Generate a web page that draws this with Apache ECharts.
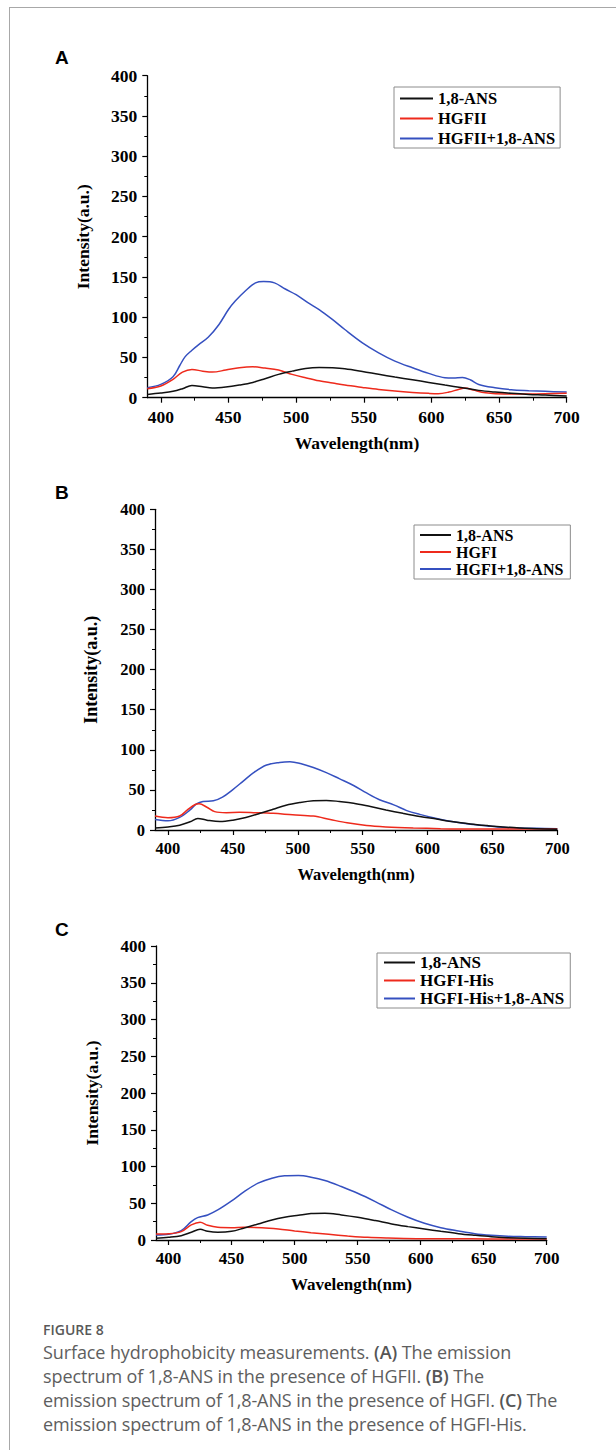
<!DOCTYPE html>
<html>
<head>
<meta charset="utf-8">
<script src="https://cdn.jsdelivr.net/npm/echarts@6/dist/echarts.min.js"></script>
<style>
html,body{margin:0;padding:0;background:#fff;}
#wrap{position:relative;width:616px;height:1450px;overflow:hidden;background:#fff;}
#chart{position:absolute;left:0;top:0;width:616px;height:1450px;}
#frame{position:absolute;left:9px;top:7px;width:640px;height:1480px;border-top:1px solid #a8a8a8;border-left:1px solid #a8a8a8;pointer-events:none;}
.letter{position:absolute;left:55px;font-family:'Liberation Sans',Arial,sans-serif;font-weight:bold;font-size:19px;line-height:19px;color:#000;}
#cap{position:absolute;left:43px;top:1320px;width:570px;font-family:'Open Sans','Noto Sans',sans-serif;color:#5e5e5e;white-space:nowrap;}
#cap .fig{font-size:14px;font-weight:600;line-height:20px;color:#595959;}
#cap .txt{font-size:18px;line-height:24px;letter-spacing:-0.1px;}
#cap b{font-weight:600;color:#555;}
</style>
</head>
<body>
<div id="wrap">
  <div id="chart"></div>
  <div id="frame"></div>
  <div class="letter" style="top:47.5px">A</div>
  <div class="letter" style="top:482.5px">B</div>
  <div class="letter" style="top:920px">C</div>
  <div id="cap">
    <div class="fig">FIGURE 8</div>
    <div class="txt">Surface hydrophobicity measurements. <b>(A)</b> The emission<br>spectrum of 1,8-ANS in the presence of HGFII. <b>(B)</b> The<br>emission spectrum of 1,8-ANS in the presence of HGFI. <b>(C)</b> The<br>emission spectrum of 1,8-ANS in the presence of HGFI-His.</div>
  </div>
</div>
<script>
// ---------------- DATA ----------------
const X_TICKS = [400, 450, 500, 550, 600, 650, 700];
const X_MINOR = [425, 475, 525, 575, 625, 675];
const Y_NAME = 'Intensity(a.u.)';
const X_NAME = 'Wavelength(nm)';

// Panel A
const A_NAMES = ['1,8-ANS', 'HGFII', 'HGFII+1,8-ANS'];
const A_ANS = [[390,4.1],[400,5.8],[409,7.9],[416,11.2],[423,15.3],[431,13.6],[438,12],[448,13.2],[458,15.7],[468,19],[477,23.6],[487,29],[497,33],[507,36.4],[517,37.6],[527,37.2],[536,36],[549,32.6],[561,29],[573,25.6],[586,22.3],[598,19],[610,15.7],[623,12.4],[635,9.1],[647,7],[659,5.4],[672,4.1],[684,3.3],[700,2]];
const A_HGFII = [[390,11.2],[400,14.5],[409,22.7],[416,31.8],[423,35.1],[431,33],[438,31.8],[448,34.3],[458,37.2],[468,38.4],[477,36.8],[487,34.3],[497,29],[507,24.8],[517,21],[527,18.2],[536,15.7],[549,12.8],[561,10.3],[573,8.3],[586,6.6],[598,5.4],[605,5],[613,7],[620,10.3],[625,12],[631,9.5],[640,6.2],[654,4.5],[672,4.5],[700,5.5]];
const A_MIX = [[390,12.4],[400,16.5],[409,26],[414,40],[418,51],[423,59],[428,66],[435,75],[443,91],[450,109.5],[455,120],[463,133.5],[470,142.6],[476,144.2],[484,142.6],[492,135],[500,128],[509,117.8],[517,109.5],[527,97],[536,84.7],[549,68.2],[561,55.8],[573,45.5],[586,37.2],[598,30.2],[610,24.8],[616,24.4],[623,25.2],[629,22],[635,16.5],[647,12.4],[659,9.9],[672,8.7],[684,7.9],[700,7]];

// Panel B
const B_NAMES = ['1,8-ANS', 'HGFI', 'HGFI+1,8-ANS'];
const B_ANS = [[390,2.5],[400,3.8],[409,5.9],[417,10.2],[423,14.4],[430,12.3],[440,10.6],[450,12.3],[460,15.7],[471,20.8],[481,25.8],[491,30.9],[502,34.3],[512,36.4],[522,36.9],[532,35.6],[543,33.5],[556,29.2],[568,25],[581,20.8],[594,16.9],[607,13.6],[620,10.2],[633,7.6],[646,5.5],[658,3.8],[671,2.5],[684,1.7],[700,0.8]];
const B_HGFI = [[390,17.4],[400,15.3],[409,17.4],[415,25],[421,31.8],[424,32.6],[430,28.4],[436,22.9],[445,21.6],[455,22],[466,21.6],[481,20.8],[496,19],[512,17.4],[525,13.1],[538,8.9],[553,5.5],[568,3.8],[589,2.5],[610,1.7],[635,1.3],[661,1.3],[700,1.3]];
const B_MIX = [[390,13.1],[400,11.4],[409,15.7],[417,25],[422,32.6],[427,35.6],[435,36.4],[442,41],[450,50.4],[458,61],[466,71.6],[476,81],[486,84.3],[494,85.2],[502,83],[512,78],[522,71.6],[532,64],[543,55.5],[553,46.2],[563,37.7],[574,31.4],[584,24.2],[594,19.5],[607,14.4],[620,10.2],[633,7.2],[646,5.1],[658,3.4],[671,2.5],[684,2.1],[700,1.7]];

// Panel C
const C_NAMES = ['1,8-ANS', 'HGFI-His', 'HGFI-His+1,8-ANS'];
const C_ANS = [[390,2.3],[400,3.6],[410,5.9],[418,10.5],[425,14.5],[431,11.8],[439,10.5],[450,11.8],[460,16.4],[471,21.8],[482,27.3],[492,30.9],[503,33.6],[513,35.9],[524,36.4],[537,34.1],[550,30.9],[564,26.4],[577,21.8],[590,18.2],[603,15],[616,11.8],[630,8.6],[643,6.4],[656,4.5],[669,3.2],[683,2.3],[700,1.8]];
const C_HGFIHIS = [[390,8.2],[400,8.6],[410,11.4],[418,20.5],[425,24.1],[431,20],[439,17.3],[450,16.8],[460,17.3],[474,16.8],[487,15],[500,12.3],[513,10],[527,7.7],[542,5.5],[558,3.6],[574,2.7],[601,1.8],[627,1.8],[653,1.4],[700,1.4]];
const C_MIX = [[390,6.8],[400,7.7],[410,12.7],[418,25],[423,30.5],[431,34.1],[439,40.9],[450,53.2],[460,65.9],[471,77.3],[482,84.1],[492,87.3],[503,87.7],[513,85.5],[524,80.9],[537,72.7],[550,63.6],[564,52.3],[577,40.9],[590,30.9],[603,22.7],[616,16.8],[630,12.3],[643,8.6],[656,6.4],[669,5],[683,4.5],[700,4.1]];

// ---------------- LAYOUT / STYLE ----------------
const SERIF = "'Liberation Serif','Times New Roman',serif";
const COLORS = ['#111111', '#ee2a1c', '#3550c0'];

const panels = [
  { grid: { left: 147.3, top: 75.7, width: 419.4, height: 322 },
    names: A_NAMES, data: [A_ANS, A_HGFII, A_MIX],
    tickFont: 17.5, xNameFont: 17.5, yNameFont: 17.5,
    legend: { left: 394, top: 87, itemWidth: 33, itemGap: 3, fontSize: 16.5, lineHeight: 16.5, padding: [3, 5, 1, 6] } },
  { grid: { left: 155, top: 509.3, width: 402.3, height: 320.7 },
    names: B_NAMES, data: [B_ANS, B_HGFI, B_MIX],
    tickFont: 16.5, xNameFont: 16.5, yNameFont: 18,
    legend: { left: 414, top: 525, itemWidth: 31, itemGap: 1, fontSize: 16, lineHeight: 16, padding: [2, 7, 2, 6] } },
  { grid: { left: 156, top: 946, width: 390.7, height: 294 },
    names: C_NAMES, data: [C_ANS, C_HGFIHIS, C_MIX],
    tickFont: 17, xNameFont: 17, yNameFont: 17.5,
    legend: { left: 377, top: 953, itemWidth: 31, itemGap: 1, fontSize: 17, lineHeight: 17, padding: [1, 6, 1, 7] } }
];

const grid = [], xAxis = [], yAxis = [], series = [], legend = [];

panels.forEach((p, i) => {
  grid.push(Object.assign({ outerBoundsMode: 'none', containLabel: false }, p.grid));
  const labelStyle = { fontFamily: SERIF, fontWeight: 'bold', color: '#000' };
  xAxis.push({
    gridIndex: i, type: 'value', min: 390, max: 700, position: 'bottom',
    axisLine: { show: true, onZero: false, lineStyle: { color: '#000', width: 1.3 } },
    axisTick: { show: true, length: 5, customValues: X_TICKS, lineStyle: { color: '#000', width: 1.2 } },
    axisLabel: Object.assign({ customValues: X_TICKS, margin: 10, fontSize: p.tickFont }, labelStyle),
    splitLine: { show: false },
    name: X_NAME, nameLocation: 'middle', nameGap: 36,
    nameTextStyle: Object.assign({ fontSize: p.xNameFont }, labelStyle)
  });
  xAxis.push({
    gridIndex: i, type: 'value', min: 390, max: 700, position: 'bottom',
    axisLine: { show: false, onZero: false },
    axisTick: { show: true, length: 3, customValues: X_MINOR, lineStyle: { color: '#000', width: 1 } },
    axisLabel: { show: false },
    splitLine: { show: false }
  });
  yAxis.push({
    gridIndex: i, type: 'value', min: 0, max: 400, interval: 50,
    axisLine: { show: true, onZero: false, lineStyle: { color: '#000', width: 1.3 } },
    axisTick: { show: true, length: 5, lineStyle: { color: '#000', width: 1.2 } },
    minorTick: { show: true, splitNumber: 2, length: 3, lineStyle: { color: '#000', width: 1 } },
    splitLine: { show: false },
    axisLabel: Object.assign({ margin: 10, fontSize: p.tickFont }, labelStyle),
    name: Y_NAME, nameLocation: 'middle', nameGap: 55,
    nameTextStyle: Object.assign({ fontSize: p.yNameFont }, labelStyle)
  });
  p.names.forEach((n, k) => {
    series.push({
      type: 'line', name: n, xAxisIndex: 2 * i, yAxisIndex: i,
      data: p.data[k], symbol: 'none', showSymbol: false, smooth: 0.35,
      lineStyle: { color: COLORS[k], width: 1.5 }, itemStyle: { color: COLORS[k] },
      z: 3 + (k === 0 ? 2 : k === 1 ? 1 : 0), silent: true, animation: false
    });
  });
  const L = p.legend;
  legend.push({
    orient: 'vertical', left: L.left, top: L.top, padding: L.padding,
    icon: 'rect', itemWidth: L.itemWidth, itemHeight: 2, itemGap: L.itemGap,
    borderColor: '#8c8c8c', borderWidth: 1, backgroundColor: '#fff',
    selectedMode: false, data: p.names,
    textStyle: { fontFamily: SERIF, fontWeight: 'bold', fontSize: L.fontSize, lineHeight: L.lineHeight, color: '#000' }
  });
});

const chart = echarts.init(document.getElementById('chart'), null, { renderer: 'svg', width: 616, height: 1450 });
chart.setOption({
  animation: false,
  backgroundColor: 'transparent',
  grid, xAxis, yAxis, series, legend
});
</script>
</body>
</html>
